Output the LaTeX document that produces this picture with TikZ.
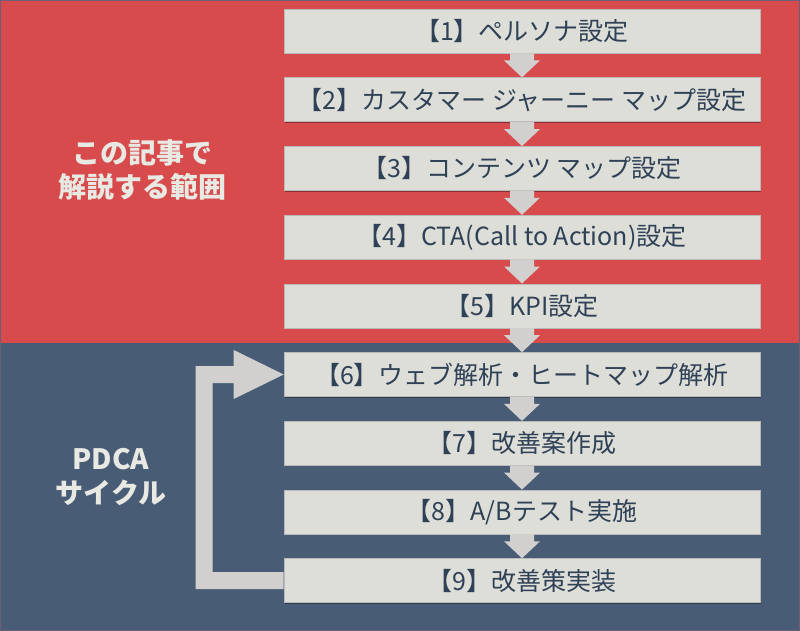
\documentclass[tikz,border=0pt]{standalone}
\usepackage{fontspec}
\newfontfamily\jpfont{Noto Sans CJK JP}
\usetikzlibrary{calc, shadows}
\definecolor{bgred}{HTML}{D74B4C}
\definecolor{bgblue}{HTML}{485D75}
\definecolor{boxgray}{HTML}{DEDED8}
\definecolor{arrowgray}{HTML}{D1D0CE}
\definecolor{textnavy}{HTML}{2F4156}
\definecolor{labelwhite}{HTML}{E9E9E4}
\definecolor{edgegray}{HTML}{6A5E78}

\begin{document}
\begin{tikzpicture}[
    x=1pt, y=-1pt,
    font={\jpfont\fontsize{25}{30}\selectfont},
    stepbox/.style={draw=gray!55, line width=0.6pt, fill=boxgray, text=textnavy, minimum width=476pt, minimum height=44pt, inner sep=0pt,
        drop shadow={shadow xshift=1.2pt, shadow yshift=-1.2pt, fill=black, opacity=0.35}},
    sidelabel/.style={text=labelwhite, align=center, font={\jpfont\bfseries\fontsize{28}{34}\selectfont}},
    flow/.style={fill=arrowgray}
]

% Hintergrund: oben rot, unten blau
\fill[bgred]  (0,0)   rectangle (800,343);
\fill[bgblue] (0,343) rectangle (800,631);
\draw[edgegray, line width=1pt] (0.5,0.5) rectangle (799.5,630.5);
\useasboundingbox (0,0) rectangle (800,631);

% Die neun Schritte
\foreach \i/\txt in {1/{【1】ペルソナ設定},
                     2/{【2】カスタマー ジャーニー マップ設定},
                     3/{【3】コンテンツ マップ設定},
                     4/{【4】CTA(Call to Action)設定},
                     5/{【5】KPI設定},
                     6/{【6】ウェブ解析・ヒートマップ解析},
                     7/{【7】改善案作成},
                     8/{【8】A/Bテスト実施},
                     9/{【9】改善策実装}} {
    \node[stepbox] (s\i) at (522, {31+68.7*(\i-1)}) {\txt};
}

% Blockpfeile zwischen den Schritten
\foreach \i [count=\j from 2] in {1,...,8} {
    \fill[flow] ($(s\i.south)+(-12,0)$) -- ($(s\i.south)+(12,0)$)
        -- ($(s\j.north)+(12,-17)$) -- ($(s\j.north)+(18,-17)$) -- (s\j.north)
        -- ($(s\j.north)+(-18,-17)$) -- ($(s\j.north)+(-12,-17)$) -- cycle;
}

% Rueckfuehrung (9) -> (6)
\fill[flow] ($(s9.west)+(0,-8.5)$) -- ($(s9.west)+(-71,-8.5)$)
    -- ($(s6.west)+(-71,8.5)$) -- ($(s6.west)+(-50,8.5)$) -- ($(s6.west)+(-50,24.5)$)
    -- (s6.west) -- ($(s6.west)+(-50,-24.5)$) -- ($(s6.west)+(-50,-8.5)$)
    -- ($(s6.west)+(-88,-8.5)$) -- ($(s9.west)+(-88,8.5)$) -- ($(s9.west)+(0,8.5)$) -- cycle;

% --- Beschriftung links ---
\node[sidelabel] (scope) at (142,170) {この記事で\\解説する範囲};
\node[sidelabel] (pdca)  at (111,477) {PDCA\\サイクル};

\end{tikzpicture}
\end{document}
